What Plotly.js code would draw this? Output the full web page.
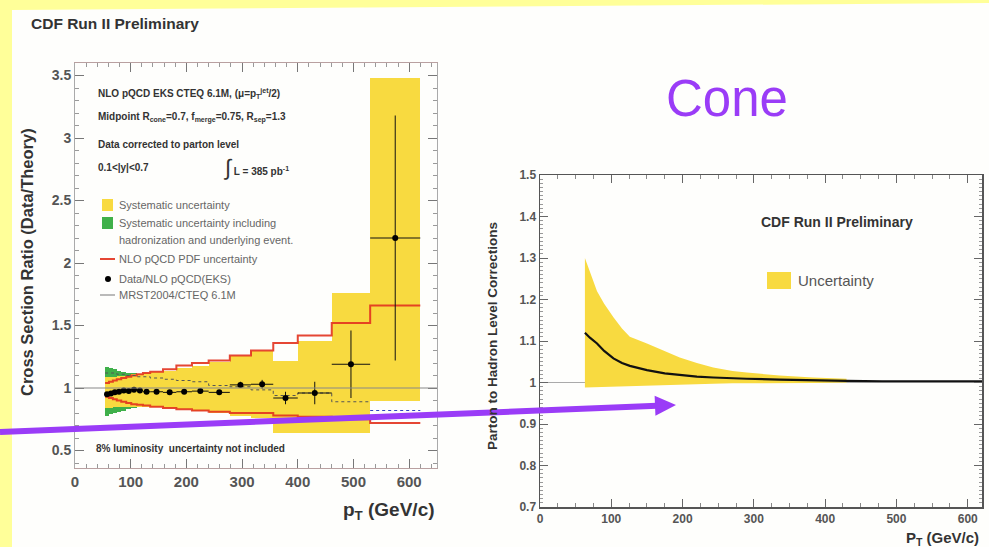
<!DOCTYPE html>
<html>
<head>
<meta charset="utf-8">
<script src="https://cdn.plot.ly/plotly-3.0.1.min.js"></script>
<style>
  html, body { margin: 0; padding: 0; background: #ffff99; }
  #chart { width: 989px; height: 547px; }
</style>
</head>
<body>
<div id="chart"></div>
<script>
// ---------- Left panel: inclusive jet cross section, data / NLO pQCD ----------
const binEdges = [54, 61, 68, 75, 83, 92, 101, 111, 122, 135, 158, 182, 210, 240, 278, 316, 356, 400, 461, 530, 620];
const ratioPt  = [57.5, 64.5, 71.5, 79, 87.5, 96.5, 106, 116.5, 128.5, 146.5, 170, 196, 225, 259, 297, 336, 378, 430.5, 495.5, 575];
const ratio    = [0.95, 0.955, 0.965, 0.97, 0.98, 0.975, 0.985, 0.98, 0.97, 0.97, 0.965, 0.97, 0.975, 0.965, 1.025, 1.03, 0.92, 0.96, 1.19, 2.2];
const ratioStat = [0.01, 0.01, 0.01, 0.01, 0.01, 0.01, 0.01, 0.01, 0.01, 0.01, 0.012, 0.014, 0.016, 0.018, 0.025, 0.035, 0.05, 0.09, 0.27, 0.98];
const sysHi = [1.09, 1.09, 1.09, 1.10, 1.10, 1.10, 1.11, 1.11, 1.12, 1.13, 1.14, 1.16, 1.18, 1.21, 1.26, 1.30, 1.22, 1.38, 1.76, 3.48];
const sysLo = [0.84, 0.84, 0.845, 0.85, 0.85, 0.85, 0.85, 0.85, 0.85, 0.85, 0.84, 0.83, 0.82, 0.80, 0.78, 0.76, 0.64, 0.64, 0.64, 0.90];
// systematic incl. hadronization / underlying event (low-pT bins only)
const hadSysHi = [1.17, 1.16, 1.15, 1.14, 1.13, 1.12, 1.12, 1.11, 1.11];
const hadSysLo = [0.78, 0.79, 0.80, 0.81, 0.82, 0.83, 0.84, 0.85, 0.85];
const pdfHi = [1.04, 1.05, 1.06, 1.07, 1.08, 1.09, 1.10, 1.11, 1.12, 1.13, 1.15, 1.18, 1.20, 1.22, 1.26, 1.30, 1.36, 1.42, 1.52, 1.66];
const pdfLo = [0.93, 0.92, 0.91, 0.90, 0.89, 0.88, 0.87, 0.865, 0.86, 0.85, 0.84, 0.83, 0.82, 0.81, 0.80, 0.80, 0.78, 0.77, 0.75, 0.72];
const mrstRatio = [1.12, 1.12, 1.12, 1.11, 1.11, 1.10, 1.10, 1.09, 1.09, 1.08, 1.07, 1.06, 1.05, 1.02, 1.01, 0.985, 0.94, 0.96, 0.89, 0.82];

// ---------- Right panel: parton-to-hadron level corrections ----------
const corrPt = [63, 70, 80, 90, 103, 115, 126, 150, 175, 196, 220, 243, 270, 290, 336, 383, 430, 480, 530, 580, 620];
const corr   = [1.12, 1.108, 1.094, 1.076, 1.058, 1.047, 1.04, 1.03, 1.022, 1.018, 1.014, 1.012, 1.01, 1.009, 1.007, 1.005, 1.004, 1.003, 1.003, 1.003, 1.003];
const corrBandPt = [63, 70, 80, 90, 103, 115, 126, 150, 175, 196, 220, 243, 270, 290, 336, 383, 430];
const corrBandHi = [1.30, 1.265, 1.22, 1.19, 1.157, 1.13, 1.11, 1.094, 1.075, 1.06, 1.047, 1.036, 1.028, 1.024, 1.017, 1.012, 1.009];
const corrBandLo = [0.988, 0.988, 0.989, 0.99, 0.99, 0.991, 0.992, 0.993, 0.994, 0.995, 0.996, 0.997, 0.998, 0.998, 0.999, 0.999, 1.0];

// ---------- helpers ----------
const W = 989, H = 547;
const px = v => v / W;
const py = v => 1 - v / H;
const FONT = 'Liberation Sans, Arial, Helvetica, sans-serif';
const YELLOW = '#f8da40';
const GREEN = '#3fb04a';
const RED = 'rgba(226,50,30,0.9)';
const PURPLE = '#9a3cf7';

const nb = ratioPt.length;
const binMid = [], binW = [];
for (let i = 0; i < nb; i++) {
  binMid.push((binEdges[i] + binEdges[i + 1]) / 2);
  binW.push(binEdges[i + 1] - binEdges[i]);
}
const halfW = binW.map(w => w / 2);
const stepY = arr => arr.concat([arr[arr.length - 1]]);

const traces = [];

// green: systematic incl. hadronization
const ng = hadSysHi.length;
traces.push({
  type: 'bar', xaxis: 'x', yaxis: 'y',
  x: binMid.slice(0, ng), width: binW.slice(0, ng),
  base: hadSysLo, y: hadSysHi.map((h, i) => h - hadSysLo[i]),
  marker: { color: GREEN, line: { width: 0 } }, hoverinfo: 'skip', showlegend: false
});
// yellow: systematic uncertainty
traces.push({
  type: 'bar', xaxis: 'x', yaxis: 'y',
  x: binMid, width: binW,
  base: sysLo, y: sysHi.map((h, i) => h - sysLo[i]),
  marker: { color: YELLOW, line: { width: 0 } }, hoverinfo: 'skip', showlegend: false
});
// PDF uncertainty (upper and lower step lines)
[pdfHi, pdfLo].forEach(arr => traces.push({
  type: 'scatter', mode: 'lines', xaxis: 'x', yaxis: 'y',
  x: binEdges, y: stepY(arr), line: { shape: 'hv', color: RED, width: 2 },
  hoverinfo: 'skip', showlegend: false
}));
// MRST2004 / CTEQ 6.1M
traces.push({
  type: 'scatter', mode: 'lines', xaxis: 'x', yaxis: 'y',
  x: binEdges.slice(0, nb), y: mrstRatio.slice(0, nb - 1).concat([mrstRatio[nb - 2]]),
  line: { shape: 'hv', color: '#555', width: 1, dash: 'dot' }, hoverinfo: 'skip', showlegend: false
});
traces.push({
  type: 'scatter', mode: 'lines', xaxis: 'x', yaxis: 'y',
  x: binEdges.slice(nb - 1), y: [mrstRatio[nb - 1], mrstRatio[nb - 1]],
  line: { color: '#3040c0', width: 1.2, dash: 'dot' }, hoverinfo: 'skip', showlegend: false
});
// data / NLO
traces.push({
  type: 'scatter', mode: 'markers', xaxis: 'x', yaxis: 'y',
  x: ratioPt, y: ratio,
  error_y: { type: 'data', array: ratioStat, color: '#111', thickness: 1, width: 0 },
  error_x: { type: 'data', array: halfW, color: '#111', thickness: 1, width: 0 },
  marker: { color: '#000', size: 6 }, hoverinfo: 'skip', showlegend: false
});

// right panel band and central curve
traces.push({
  type: 'scatter', mode: 'lines', xaxis: 'x2', yaxis: 'y2',
  x: corrBandPt.concat(corrBandPt.slice().reverse()),
  y: corrBandHi.concat(corrBandLo.slice().reverse()),
  fill: 'toself', fillcolor: YELLOW, line: { width: 0, color: YELLOW },
  hoverinfo: 'skip', showlegend: false
});
traces.push({
  type: 'scatter', mode: 'lines', xaxis: 'x2', yaxis: 'y2',
  x: corrPt, y: corr, line: { color: '#111', width: 2.2 },
  hoverinfo: 'skip', showlegend: false
});

const tickBase = {
  ticks: 'inside', mirror: 'ticks', showline: true, showgrid: false, zeroline: false,
  fixedrange: true
};

// purple pointer arrow (tail at the left page edge, head near the right panel)
const arrowTail = [0, 432], arrowTip = [676, 405];
const dx = arrowTip[0] - arrowTail[0], dy = arrowTip[1] - arrowTail[1];
const len = Math.hypot(dx, dy), ux = dx / len, uy = dy / len;
const headLen = 21, headHalf = 10;
const baseC = [arrowTip[0] - headLen * ux, arrowTip[1] - headLen * uy];
const h1 = [baseC[0] - headHalf * uy, baseC[1] + headHalf * ux];
const h2 = [baseC[0] + headHalf * uy, baseC[1] - headHalf * ux];

const layout = {
  width: W, height: H,
  margin: { l: 0, r: 0, t: 0, b: 0 },
  paper_bgcolor: '#ffff99',
  plot_bgcolor: 'rgba(0,0,0,0)',
  barmode: 'overlay',
  bargap: 0,
  showlegend: false,
  font: { family: FONT, color: '#333' },
  xaxis: Object.assign({}, tickBase, {
    domain: [px(75), px(437)], range: [0, 650], anchor: 'y',
    tick0: 0, dtick: 100, ticklen: 9, tickcolor: '#777', linecolor: '#b9a0a0', linewidth: 1,
    minor: { ticks: 'inside', dtick: 20, ticklen: 4, tickcolor: '#999' },
    tickfont: { family: FONT, size: 15, color: '#555', weight: 'bold' }
  }),
  yaxis: Object.assign({}, tickBase, {
    domain: [py(468), py(63)], range: [0.36, 3.6], anchor: 'x',
    tick0: 0.5, dtick: 0.5, ticklen: 9, tickcolor: '#777', linecolor: '#aaa', linewidth: 1,
    minor: { ticks: 'inside', dtick: 0.1, ticklen: 4, tickcolor: '#999' },
    tickfont: { family: FONT, size: 14, color: '#555', weight: 'bold' }
  }),
  xaxis2: Object.assign({}, tickBase, {
    domain: [px(540), px(982)], range: [0, 620], anchor: 'y2',
    tick0: 0, dtick: 100, ticklen: 8, tickcolor: '#666', linecolor: '#555', linewidth: 1.5,
    minor: { ticks: 'inside', dtick: 25, ticklen: 4, tickcolor: '#888' },
    tickfont: { family: FONT, size: 12, color: '#555', weight: 'bold' }
  }),
  yaxis2: Object.assign({}, tickBase, {
    domain: [py(507), py(175)], range: [0.7, 1.5], anchor: 'x2',
    tick0: 0.7, dtick: 0.1, ticklen: 8, tickcolor: '#666', linecolor: '#555', linewidth: 1.5,
    minor: { ticks: 'inside', dtick: 0.01, ticklen: 3, tickcolor: '#999' },
    tickfont: { family: FONT, size: 12, color: '#555', weight: 'bold' }
  }),
  shapes: [
    // white slide area
    { type: 'path', xref: 'paper', yref: 'paper', layer: 'below',
      path: `M ${px(12)},${py(10)} L 1,${py(3)} L 1,0 L ${px(12)},0 Z`,
      fillcolor: '#fefefc', line: { width: 0 } },
    // unity reference lines
    { type: 'line', xref: 'x domain', yref: 'y', x0: 0, x1: 1, y0: 1, y1: 1,
      line: { color: '#888', width: 1 }, layer: 'above' },
    { type: 'line', xref: 'x2 domain', yref: 'y2', x0: 0, x1: 1, y0: 1, y1: 1,
      line: { color: '#aaa', width: 1 }, layer: 'below' },
    // left panel legend glyphs
    { type: 'rect', xref: 'paper', yref: 'paper', x0: px(102), x1: px(113), y0: py(211), y1: py(199),
      fillcolor: YELLOW, line: { width: 0 } },
    { type: 'rect', xref: 'paper', yref: 'paper', x0: px(102), x1: px(113), y0: py(229), y1: py(217),
      fillcolor: GREEN, line: { width: 0 } },
    { type: 'line', xref: 'paper', yref: 'paper', x0: px(100), x1: px(115), y0: py(259), y1: py(259),
      line: { color: RED, width: 2 } },
    { type: 'circle', xref: 'paper', yref: 'paper', x0: px(105), x1: px(111), y0: py(282), y1: py(276),
      fillcolor: '#000', line: { width: 0 } },
    { type: 'line', xref: 'paper', yref: 'paper', x0: px(100), x1: px(115), y0: py(295), y1: py(295),
      line: { color: '#777', width: 1 } },
    // right panel legend box
    { type: 'rect', xref: 'paper', yref: 'paper', x0: px(767), x1: px(791), y0: py(289), y1: py(272),
      fillcolor: YELLOW, line: { width: 0 } },
    // pointer arrow: shaft and head
    { type: 'line', xref: 'paper', yref: 'paper',
      x0: px(arrowTail[0]), y0: py(arrowTail[1]), x1: px(baseC[0] + 2 * ux), y1: py(baseC[1] + 2 * uy),
      line: { color: PURPLE, width: 6 } },
    { type: 'path', xref: 'paper', yref: 'paper',
      path: `M ${px(arrowTip[0])},${py(arrowTip[1])} L ${px(h1[0])},${py(h1[1])} L ${px(h2[0])},${py(h2[1])} Z`,
      fillcolor: PURPLE, line: { width: 0 } }
  ],
  annotations: []
};

function label(text, x, y, opts) {
  layout.annotations.push(Object.assign({
    text: text, xref: 'paper', yref: 'paper', x: px(x), y: py(y),
    xanchor: 'left', yanchor: 'middle', showarrow: false,
    font: { family: FONT, size: 11, color: '#333' }
  }, opts || {}));
}

// slide heading and panel titles
label('<b>CDF Run II Preliminary</b>', 29, 23, { font: { family: FONT, size: 15.5, color: '#333' } });
label('Cone', 664, 99, { font: { family: FONT, size: 51, color: PURPLE } });

// left panel axis titles
label('<b>Cross Section Ratio (Data/Theory)</b>', 27, 262,
  { textangle: -90, xanchor: 'center', font: { family: FONT, size: 16.5, color: '#333' } });
label('<b>p<sub>T</sub> (GeV/c)</b>', 437, 511,
  { xanchor: 'right', font: { family: FONT, size: 19, color: '#333' } });

// left panel text block
const bold10 = { font: { family: FONT, size: 10, color: '#333' } };
label('<b>NLO pQCD EKS CTEQ 6.1M, (μ=p<sub>T</sub><sup>jet</sup>/2)</b>', 96, 93, bold10);
label('<b>Midpoint R<sub>cone</sub>=0.7, f<sub>merge</sub>=0.75, R<sub>sep</sub>=1.3</b>', 96, 118, bold10);
label('<b>Data corrected to parton level</b>', 96, 144, bold10);
label('<b>0.1&lt;|y|&lt;0.7</b>', 96, 167, bold10);
label('<span style="font-size:22px">∫</span><b> L = 385 pb<sup>-1</sup></b>', 221, 167, bold10);

const leg11 = { font: { family: FONT, size: 11, color: '#666' } };
label('Systematic uncertainty', 117, 205, leg11);
label('Systematic uncertainty including', 117, 223, leg11);
label('hadronization and underlying event.', 117, 240, leg11);
label('NLO pQCD PDF uncertainty', 117, 259, leg11);
label('Data/NLO pQCD(EKS)', 117, 279, leg11);
label('MRST2004/CTEQ 6.1M', 117, 295, leg11);
label('<b>8% luminosity  uncertainty not included</b>', 94, 448, bold10);

// right panel titles and legend
label('<b>Parton to Hadron Level Corrections</b>', 492, 336,
  { textangle: -90, xanchor: 'center', font: { family: FONT, size: 13.5, color: '#333' } });
label('<b>P<sub>T</sub> (GeV/c)</b>', 981, 538,
  { xanchor: 'right', font: { family: FONT, size: 15, color: '#333' } });
label('<b>CDF Run II Preliminary</b>', 759, 222, { font: { family: FONT, size: 14, color: '#333' } });
label('Uncertainty', 796, 280, { font: { family: FONT, size: 15, color: '#555' } });

Plotly.newPlot('chart', traces, layout, { staticPlot: true, displayModeBar: false });
</script>
</body>
</html>
